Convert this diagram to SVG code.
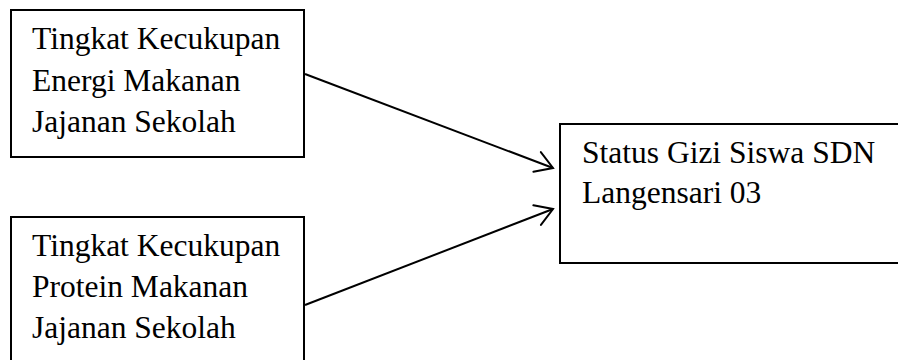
<svg xmlns="http://www.w3.org/2000/svg" width="898" height="360" viewBox="0 0 898 360">
  <defs>
    <style>
      .box { fill: #ffffff; stroke: #000000; stroke-width: 2; }
      .lbl { font-family: "Liberation Serif", "Times New Roman", serif; font-size: 31.5px; fill: #000000; }
      .conn { stroke: #000000; stroke-width: 2; fill: none; }
    </style>
    <marker id="openArrow" markerUnits="userSpaceOnUse" markerWidth="30" markerHeight="30" viewBox="-22 -15 26 30" refX="0" refY="0" orient="auto">
      <path d="M-17,-10.5 L0,0 L-17,10.5" fill="none" stroke="#000000" stroke-width="2" stroke-linecap="round" stroke-linejoin="miter"/>
    </marker>
  </defs>
  <rect x="0" y="0" width="898" height="360" fill="#ffffff"/>
  <g id="node-energi">
    <rect class="box" x="11" y="10" width="293" height="147"/>
    <text class="lbl" x="32" y="49">Tingkat Kecukupan</text>
    <text class="lbl" x="32" y="90.5">Energi Makanan</text>
    <text class="lbl" x="32" y="132">Jajanan Sekolah</text>
  </g>
  <g id="node-protein">
    <rect class="box" x="11" y="217" width="293" height="160"/>
    <text class="lbl" x="32" y="256">Tingkat Kecukupan</text>
    <text class="lbl" x="32" y="297">Protein Makanan</text>
    <text class="lbl" x="32" y="338">Jajanan Sekolah</text>
  </g>
  <g id="node-status">
    <rect class="box" x="560" y="124" width="360" height="139"/>
    <text class="lbl" x="582" y="163">Status Gizi Siswa SDN</text>
    <text class="lbl" x="582" y="203">Langensari 03</text>
  </g>
  <g id="connectors">
    <line class="conn" x1="305" y1="74" x2="553" y2="168" marker-end="url(#openArrow)"/>
    <line class="conn" x1="305" y1="305" x2="553" y2="209" marker-end="url(#openArrow)"/>
  </g>
</svg>
